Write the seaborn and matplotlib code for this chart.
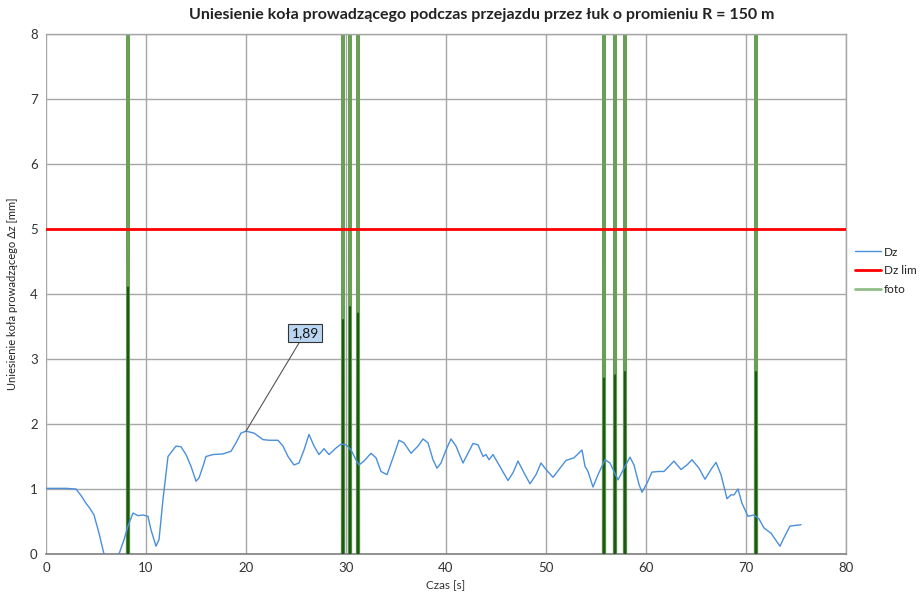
import matplotlib
matplotlib.use("Agg")
import matplotlib.pyplot as plt
import seaborn as sns
import pandas as pd
import numpy as np
from matplotlib.lines import Line2D

# ---- data ----
dz_t = [0.0, 1.0, 2.0, 3.0, 3.5, 4.0, 4.4, 4.8, 5.3, 5.8, 6.2, 6.7, 7.0, 7.3, 7.8, 8.2, 8.7, 9.2,
        9.7, 10.2, 10.5, 11.0, 11.3, 11.7, 12.2, 12.7, 13.0, 13.5, 14.0, 14.5, 15.0, 15.3, 15.7,
        16.0, 16.7, 17.7, 18.5, 19.0, 19.5, 20.0, 20.8, 21.7, 22.3, 23.2, 23.7, 24.2, 24.8, 25.3,
        25.8, 26.3, 26.8, 27.3, 27.8, 28.3, 29.0, 29.5, 30.0, 30.5, 31.0, 31.3, 31.8, 32.5, 33.0,
        33.5, 34.1, 34.7, 35.3, 35.8, 36.5, 37.2, 37.7, 38.2, 38.7, 39.1, 39.5, 40.0, 40.5, 41.0,
        41.7, 42.2, 42.7, 43.2, 43.7, 44.0, 44.3, 44.7, 45.0, 45.5, 46.2, 46.7, 47.2, 47.8, 48.4,
        49.0, 49.5, 50.0, 50.7, 51.3, 52.0, 52.8, 53.6, 53.9, 54.2, 54.7, 55.2, 55.9, 56.4, 57.2,
        57.8, 58.4, 58.8, 59.3, 59.6, 60.1, 60.6, 61.3, 61.8, 62.3, 62.8, 63.5, 64.1, 64.6, 65.3,
        65.9, 66.5, 67.0, 67.5, 68.1, 68.5, 68.8, 69.2, 69.6, 70.2, 70.8, 71.3, 71.8, 72.5, 73.4,
        73.7, 74.4, 75.5]
dz_v = [1.01, 1.01, 1.01, 1.0, 0.9, 0.78, 0.7, 0.6, 0.32, 0.0, -0.3, -0.4, -0.2, 0.0, 0.22, 0.43,
        0.63, 0.59, 0.6, 0.58, 0.37, 0.12, 0.22, 0.84, 1.5, 1.6, 1.66, 1.65, 1.53, 1.35, 1.12,
        1.17, 1.35, 1.5, 1.53, 1.54, 1.58, 1.71, 1.86, 1.89, 1.86, 1.76, 1.75, 1.75, 1.66, 1.5,
        1.37, 1.4, 1.6, 1.84, 1.66, 1.53, 1.62, 1.53, 1.63, 1.69, 1.68, 1.6, 1.45, 1.37, 1.43,
        1.55, 1.48, 1.27, 1.22, 1.48, 1.75, 1.71, 1.55, 1.66, 1.77, 1.71, 1.45, 1.32, 1.4, 1.6,
        1.77, 1.66, 1.4, 1.55, 1.7, 1.68, 1.5, 1.53, 1.45, 1.53, 1.45, 1.32, 1.13, 1.25, 1.43,
        1.25, 1.08, 1.22, 1.4, 1.3, 1.18, 1.3, 1.44, 1.48, 1.6, 1.35, 1.27, 1.03, 1.22, 1.45,
        1.4, 1.14, 1.32, 1.49, 1.37, 1.07, 0.95, 1.09, 1.26, 1.27, 1.27, 1.35, 1.43, 1.3, 1.37,
        1.45, 1.32, 1.15, 1.3, 1.41, 1.22, 0.85, 0.91, 0.91, 1.0, 0.78, 0.58, 0.6, 0.54, 0.4,
        0.32, 0.12, 0.22, 0.43, 0.45]

dz_lim_t = [0.0, 80.0]
dz_lim_v = [5.0, 5.0]

foto_times = [8.2, 29.7, 30.4, 31.2, 55.8, 56.9, 57.9, 71.0]
foto_peak = [10.0, 10.0, 10.0, 10.0, 10.0, 10.0, 10.0, 10.0]
foto_core = [4.1, 3.6, 3.8, 3.7, 2.7, 2.75, 2.8, 2.8]

x_ticks = [0, 10, 20, 30, 40, 50, 60, 70, 80]
y_ticks = [0, 1, 2, 3, 4, 5, 6, 7, 8]

title = "Uniesienie koła prowadzącego podczas przejazdu przez łuk o promieniu R = 150 m"
xlabel = "Czas [s]"
ylabel = "Uniesienie koła prowadzącego Δz [mm]"
ann_label = "1,89"
ann_t, ann_v = 20.0, 1.89

# ---- build frames ----
dz_df = pd.DataFrame({"t": dz_t, "v": dz_v})
lim_df = pd.DataFrame({"t": dz_lim_t, "v": dz_lim_v})

def spike_frame(times, heights):
    rows = []
    for k, (t, h) in enumerate(zip(times, heights)):
        rows += [(t - 0.04, -1.0, k), (t, h, k), (t + 0.04, -1.0, k)]
    return pd.DataFrame(rows, columns=["t", "v", "id"])

foto_df = spike_frame(foto_times, foto_peak)
core_df = spike_frame(foto_times, foto_core)

# ---- plot ----
sns.set_style("white")
plt.rcParams["font.family"] = ["Lato", "DejaVu Sans"]

fig = plt.figure(figsize=(9.21, 5.96), dpi=100)
ax = fig.add_axes([46 / 921, 42 / 596, 800 / 921, 520 / 596])

grid_c = "#a6a6a6"
for x in x_ticks:
    ax.axvline(x, color=grid_c, lw=1.0, zorder=0)
for y in y_ticks:
    ax.axhline(y, color=grid_c, lw=1.0, zorder=0)

sns.lineplot(data=foto_df, x="t", y="v", units="id", estimator=None, ax=ax,
             color="#6a9f58", lw=2.6, sort=False, legend=False, zorder=2)
sns.lineplot(data=core_df, x="t", y="v", units="id", estimator=None, ax=ax,
             color="#1b5a12", lw=1.5, sort=False, legend=False, zorder=3)
sns.lineplot(data=lim_df, x="t", y="v", ax=ax, color="#ff0000", lw=2.0, zorder=4)
sns.lineplot(data=dz_df, x="t", y="v", ax=ax, color="#4a8fdc", lw=1.0, sort=False, zorder=5)

ax.set_xlim(0, 80)
ax.set_ylim(0, 8)
ax.set_xticks(x_ticks)
ax.set_yticks(y_ticks)
ax.tick_params(axis="both", length=0, labelsize=9.5, colors="#333333", pad=6)
ax.set_xlabel(xlabel, fontsize=8.5, color="#333333", labelpad=4)
ax.set_ylabel(ylabel, fontsize=8, color="#222222")
ax.yaxis.set_label_coords(-0.035, 0.5)
ax.set_title("")
fig.text(482 / 921, 1 - 15 / 596, title, ha="center", va="center",
         fontsize=11.5, fontweight="bold", color="#222222")

for side in ["top", "right"]:
    ax.spines[side].set_color(grid_c)
    ax.spines[side].set_linewidth(1.0)
ax.spines["left"].set_visible(False)
ax.spines["bottom"].set_color("#7f7f7f")
ax.spines["bottom"].set_linewidth(1.2)

ax.annotate(ann_label, xy=(ann_t, ann_v), xytext=(25.9, 3.4),
            ha="center", va="center", fontsize=10, color="#111111",
            bbox=dict(boxstyle="square,pad=0.25", fc="#b9d5f2", ec="#333333", lw=0.8),
            arrowprops=dict(arrowstyle="-", color="#555555", lw=0.8,
                            shrinkA=0, shrinkB=0),
            zorder=6)

handles = [Line2D([], [], color="#4a8fdc", lw=1.0),
           Line2D([], [], color="#ff0000", lw=2.0),
           Line2D([], [], color="#8fbf86", lw=2.0)]
fig.legend(handles, ["Dz", "Dz lim", "foto"], loc="upper left",
           bbox_to_anchor=(851 / 921, 1 - 243 / 596), frameon=False,
           fontsize=8.5, handlelength=2.2, handletextpad=0.3, labelspacing=0.65,
           labelcolor="#222222", borderaxespad=0.0, borderpad=0.3)

fig.savefig("out.png", dpi=100)
